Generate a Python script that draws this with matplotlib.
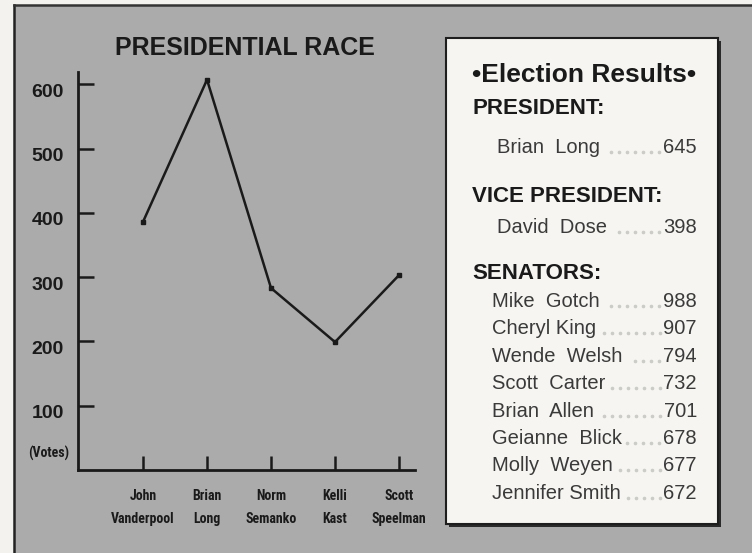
import matplotlib
matplotlib.use("Agg")
import matplotlib.pyplot as plt
from matplotlib.patches import Rectangle
from matplotlib.transforms import ScaledTranslation

# Presidential race votes per candidate
candidates = ["John\nVanderpool", "Brian\nLong", "Norm\nSemanko", "Kelli\nKast", "Scott\nSpeelman"]
votes = [386, 607, 283, 199, 303]
y_ticks = [100, 200, 300, 400, 500, 600]

# Results panel
president = [("Brian  Long", 645)]
vice_president = [("David  Dose", 398)]
senators = ["Mike  Gotch", "Cheryl King", "Wende  Welsh", "Scott  Carter",
            "Brian  Allen", "Geianne  Blick", "Molly  Weyen", "Jennifer Smith"]
senator_votes = [988, 907, 794, 732, 701, 678, 677, 672]

W, H = 752, 553
panel_gray = "#ababab"
ink = "#1a1a1a"
soft_ink = "#3a3a3a"
narrow = ["Roboto Condensed", "DejaVu Sans"]
plt.rcParams["font.family"] = ["Liberation Sans", "DejaVu Sans"]

fig = plt.figure(figsize=(W / 100, H / 100), dpi=100, facecolor="#f3f2ef")


def fx(px):
    return px / W


def fy(py):
    return 1 - py / H


# gray board with a dark edge on the left and top
fig.patches.append(Rectangle((fx(14), 0), 1 - fx(14), fy(5), transform=fig.transFigure,
                             facecolor=panel_gray, edgecolor="none", zorder=-2))
fig.lines.append(plt.Line2D([fx(14), fx(14)], [0, fy(5)], transform=fig.transFigure,
                            color="#222222", lw=1.8, zorder=-1))
fig.lines.append(plt.Line2D([fx(14), 1], [fy(5), fy(5)], transform=fig.transFigure,
                            color="#333333", lw=1.8, zorder=-1))

# line chart
ax = fig.add_axes([fx(78), fy(470), fx(415) - fx(78), (470 - 72) / H])
ax.set_facecolor("none")
x = list(range(len(candidates)))
ax.plot(x, votes, color=ink, lw=1.8, marker="s", markersize=3.5, solid_joinstyle="miter")
ax.set_xlim(-1.016, 4.25)
ax.set_ylim(0, 619)
for side in ["top", "right"]:
    ax.spines[side].set_visible(False)
for side in ["left", "bottom"]:
    ax.spines[side].set_linewidth(2)
    ax.spines[side].set_color(ink)

ax.set_yticks(y_ticks)
ax.set_yticklabels([str(v) for v in y_ticks], fontsize=14, fontweight="bold", color=ink)
ax.tick_params(axis="y", direction="in", length=11.5, width=1.8, color=ink, pad=10)
for lbl in ax.get_yticklabels():
    lbl.set_transform(lbl.get_transform() + ScaledTranslation(0, -0.06, fig.dpi_scale_trans))

ax.set_xticks(x)
ax.set_xticklabels(candidates, fontsize=10, fontweight="bold", family=narrow,
                   color=ink, linespacing=1.75)
ax.tick_params(axis="x", direction="in", length=10, width=1.8, color=ink, pad=14)

fig.text(fx(49), fy(453), "(Votes)", ha="center", va="center", fontsize=10,
         fontweight="bold", family=narrow, color=ink)
fig.text(fx(245), fy(48), "PRESIDENTIAL RACE", ha="center", va="center",
         fontsize=18, fontweight="bold", color=ink)

# results box with drop shadow
fig.patches.append(Rectangle((fx(449), fy(527)), fx(718) - fx(446), (524 - 38) / H,
                             transform=fig.transFigure, facecolor="#2a2a2a", edgecolor="none", zorder=1))
fig.patches.append(Rectangle((fx(446), fy(524)), fx(718) - fx(446), (524 - 38) / H,
                             transform=fig.transFigure, facecolor="#f6f5f1", edgecolor="#1e1e1e",
                             lw=1.5, zorder=2))

fig.text(fx(584), fy(82), "\u2022Election Results\u2022", ha="center", va="baseline",
         fontsize=19, fontweight="bold", color=ink, zorder=3)

rows = []


def heading(text, base):
    fig.text(fx(472), fy(base), text, ha="left", va="baseline", fontsize=16,
             fontweight="bold", color=ink, zorder=3)


def entry(name, value, base, left):
    t1 = fig.text(fx(left), fy(base), name, ha="left", va="baseline", fontsize=14.5,
                  color=soft_ink, zorder=3)
    t2 = fig.text(fx(697), fy(base), str(value), ha="right", va="baseline", fontsize=14.5,
                  color=soft_ink, zorder=3)
    rows.append((t1, t2, base))


heading("PRESIDENT:", 114)
for name, v in president:
    entry(name, v, 153, 497)
heading("VICE PRESIDENT:", 202)
for name, v in vice_president:
    entry(name, v, 233, 497)
heading("SENATORS:", 279)
for i, (name, v) in enumerate(zip(senators, senator_votes)):
    entry(name, v, 307 + i * 27.4, 492)

# dotted leaders between each name and its vote count
fig.canvas.draw()
renderer = fig.canvas.get_renderer()
for t1, t2, base in rows:
    x0 = t1.get_window_extent(renderer).x1 + 5
    x1 = t2.get_window_extent(renderer).x0 - 4
    xs = []
    px = x1
    while px > x0:
        xs.append(px)
        px -= 8
    fig.lines.append(plt.Line2D([p / W for p in xs], [fy(base - 1)] * len(xs),
                                transform=fig.transFigure, ls="none", marker="o",
                                markersize=1.6, color="#cbcbc7", zorder=3))

fig.savefig("out.png", dpi=100, facecolor=fig.get_facecolor())
